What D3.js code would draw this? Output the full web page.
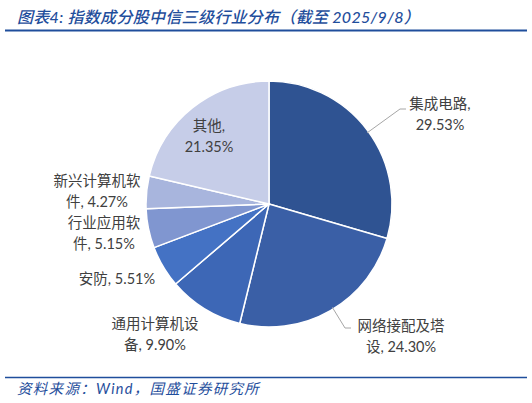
<!DOCTYPE html>
<html><head><meta charset="utf-8">
<script src="https://cdn.jsdelivr.net/npm/d3@7"></script>
<style>
html,body{margin:0;padding:0;background:#fff;}
svg{display:block;}
</style></head>
<body>
<svg id="chart" width="532" height="403"></svg>
<script>
const categories = ["集成电路","网络接配及塔设","通用计算机设备","安防","行业应用软件","新兴计算机软件","其他"];
const values = [29.53, 24.30, 9.90, 5.51, 5.15, 4.27, 21.35];
const colors = ["#2F5392","#3A5FA6","#3D67B6","#4472C4","#8096D0","#A8B5DD","#C6CDE8"];
const labelLines = [
  ["集成电路,","29.53%"],
  ["网络接配及塔","设, 24.30%"],
  ["通用计算机设","备, 9.90%"],
  ["安防, 5.51%"],
  ["行业应用软","件, 5.15%"],
  ["新兴计算机软","件, 4.27%"],
  ["其他,","21.35%"]
];
const title = "图表4:  指数成分股中信三级行业分布（截至 2025/9/8）";
const source = "资料来源：Wind，国盛证券研究所";

const svg = d3.select("#chart");
const blue = "#1F4E9C";
const font = "Lato, 'Noto Sans CJK SC', sans-serif";

svg.append("text").attr("x",17).attr("y",23)
  .attr("font-family",font).attr("font-size",16).attr("font-style","italic").attr("font-weight",500)
  .attr("letter-spacing",0.3)
  .attr("fill",blue).text(title);
svg.append("line").attr("x1",5).attr("x2",527).attr("y1",30.5).attr("y2",30.5)
  .attr("stroke",blue).attr("stroke-width",2);
svg.append("line").attr("x1",5).attr("x2",527).attr("y1",377.5).attr("y2",377.5)
  .attr("stroke",blue).attr("stroke-width",1.5);
svg.append("text").attr("x",17).attr("y",394)
  .attr("font-family",font).attr("font-size",14.5).attr("font-style","italic")
  .attr("letter-spacing",1.3)
  .attr("fill",blue).text(source);

const cx = 269, cy = 204, r = 123;
const pie = d3.pie().sort(null).value(d=>d)(values);
const arc = d3.arc().innerRadius(0).outerRadius(r);
const g = svg.append("g").attr("transform",`translate(${cx},${cy})`);
g.selectAll("path").data(pie).join("path")
  .attr("d",arc).attr("fill",(d,i)=>colors[i])
  .attr("stroke","#fff").attr("stroke-width",1.5).attr("stroke-linejoin","round");

const labelPos = [
  {x:440, y:104},
  {x:401, y:326},
  {x:155, y:324},
  {x:117, y:279},
  {x:104, y:223},
  {x:97,  y:181},
  {x:209, y:126}
];
const lineH = 20.5;
categories.forEach((c,i)=>{
  const t = svg.append("text").attr("font-family",font).attr("font-size",14.5)
    .attr("fill","#404040").attr("text-anchor","middle");
  labelLines[i].forEach((s,j)=>{
    t.append("tspan").attr("x",labelPos[i].x).attr("y",labelPos[i].y + 5 + j*lineH).text(s);
  });
});

const leaders = [
  {i:0, pts:[[400,109],[406,109]]},
  {i:1, pts:[[345,328],[351,328]]}
];
leaders.forEach(L=>{
  const px = L.pts[0][0]-cx, py = L.pts[0][1]-cy;
  const ang = Math.atan2(py,px);
  const start = [cx + r*Math.cos(ang)*0.985, cy + r*Math.sin(ang)*0.985];
  svg.append("polyline").attr("points",[start,...L.pts].map(p=>p.join(",")).join(" "))
    .attr("fill","none").attr("stroke","#A6A6A6").attr("stroke-width",1);
});
</script>
</body></html>
